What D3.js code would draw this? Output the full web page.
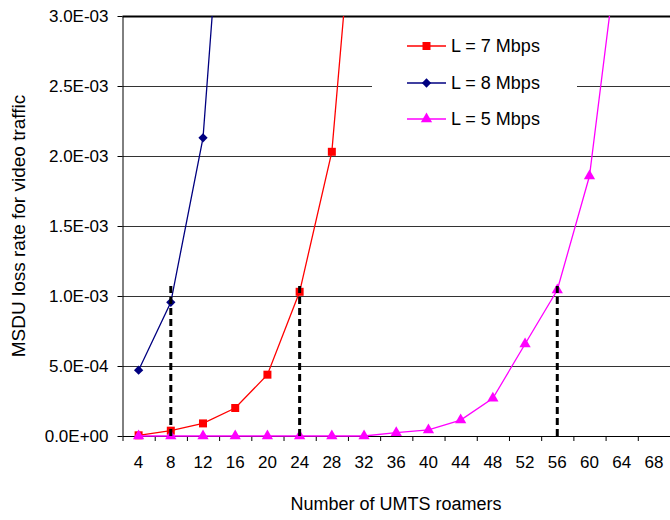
<!DOCTYPE html>
<html>
<head>
<meta charset="utf-8">
<script src="https://cdn.jsdelivr.net/npm/d3@7"></script>
<style>
    body { margin: 0; background: #fff; }
    text { font-family: Arial, "Liberation Sans", sans-serif; fill: #000; }
</style>
</head>
<body>
<div id="chart"></div>
<script>
// categories on the x axis (number of UMTS roamers)
let categories = [4, 8, 12, 16, 20, 24, 28, 32, 36, 40, 44, 48, 52, 56, 60, 64, 68]

// loss rates (last point of each runs off the top)
let rate7 = [0.000005, 0.000038, 0.00009, 0.0002, 0.000438, 0.00103, 0.00203, 0.0047]
let rate8 = [0.00047, 0.000955, 0.00213, 0.0052]
let rate5 = [0, 0, 0, 0, 0, 0, 0, 0, 0.000024, 0.000043, 0.000114, 0.000269, 0.000657, 0.001043, 0.001857, 0.0037]

let yTicks = [0, 0.0005, 0.001, 0.0015, 0.002, 0.0025, 0.003]
let yTickLabels = ["0.0E+00", "5.0E-04", "1.0E-03", "1.5E-03", "2.0E-03", "2.5E-03", "3.0E-03"]

// dashed drop lines at the capacity limits
let dropX = [8, 24, 56]
let dropTop = 0.00108

let series = [
    {name: "L = 7 Mbps", values: rate7, color: "#ff0000", symbol: d3.symbolSquare, size: 64},
    {name: "L = 8 Mbps", values: rate8, color: "#000080", symbol: d3.symbolDiamond2, size: 55},
    {name: "L = 5 Mbps", values: rate5, color: "#ff00ff", symbol: d3.symbolTriangle, size: 55}
]

let margin = {top: 16, right: 0, bottom: 84, left: 122.5}
let width = 670 - margin.left - margin.right
let height = 520 - margin.top - margin.bottom

let svg = d3.select("#chart").append("svg")
    .attr("width", 670)
    .attr("height", 520)

let g = svg.append("g")
    .attr("transform", `translate(${margin.left}, ${margin.top})`)

// scales
let x = d3.scaleBand().domain(categories).range([0, width]).paddingInner(0).paddingOuter(0)
let xEdge = d3.scaleLinear().domain([0, categories.length]).range([0, width])
let y = d3.scaleLinear().domain([0, 0.003]).range([height, 0])

g.append("clipPath").attr("id", "plotClip")
    .append("rect")
    .attr("x", 0).attr("y", 0)
    .attr("width", width).attr("height", height + 2)

// gridlines
g.append("g")
    .attr("class", "grid")
    .selectAll("line")
    .data(yTicks.slice(1))
    .enter().append("line")
    .attr("x1", 0)
    .attr("x2", width)
    .attr("y1", d => Math.round(y(d)) + 0.5)
    .attr("y2", d => Math.round(y(d)) + 0.5)
    .attr("stroke", d => d === 0.003 ? "#000" : "#333")
    .attr("stroke-width", d => d === 0.003 ? 2 : 1)

// y axis
let yAxis = g.append("g")
    .attr("class", "axis axis--y")
    .call(d3.axisLeft(y).tickValues(yTicks)
        .tickFormat((d, i) => yTickLabels[i])
        .tickSize(5).tickPadding(9).tickSizeOuter(0))
yAxis.selectAll("text").style("font-size", "17px")
yAxis.select(".domain").attr("stroke", "#000")

// x axis: tick marks between categories, labels centred
let xTicks = g.append("g")
    .attr("class", "axis axis--x")
    .attr("transform", `translate(0, ${height})`)
    .call(d3.axisBottom(xEdge).tickValues(d3.range(0, categories.length + 1))
        .tickFormat("").tickSize(5).tickSizeOuter(0))

let xLabels = g.append("g")
    .attr("transform", `translate(0, ${height})`)
    .call(d3.axisBottom(x).tickSize(0).tickPadding(20))
xLabels.select(".domain").remove()
xLabels.selectAll("text").style("font-size", "17px")

// lines (clipped at the top of the plot) and markers
let line = d3.line()
    .x((d, i) => x(categories[i]) + x.bandwidth() / 2)
    .y(d => y(d))

let plot = g.append("g")

series.forEach(s => {
    plot.append("path")
        .datum(s.values)
        .attr("clip-path", "url(#plotClip)")
        .attr("fill", "none")
        .attr("stroke", s.color)
        .attr("stroke-width", 1.3)
        .attr("d", line)

    plot.selectAll(null)
        .data(s.values.filter(v => v <= 0.003))
        .enter().append("path")
        .attr("d", d3.symbol().type(s.symbol).size(s.size))
        .attr("transform", (d, i) => `translate(${x(categories[i]) + x.bandwidth() / 2}, ${y(d)})`)
        .attr("fill", s.color)
})

// dashed drop lines
g.selectAll(".drop")
    .data(dropX)
    .enter().append("line")
    .attr("class", "drop")
    .attr("x1", d => x(d) + x.bandwidth() / 2)
    .attr("x2", d => x(d) + x.bandwidth() / 2)
    .attr("y1", height)
    .attr("y2", y(dropTop))
    .attr("stroke", "#000")
    .attr("stroke-width", 3)
    .attr("stroke-dasharray", "7,4")

// legend
let legend = svg.append("g").attr("transform", "translate(372, 22)")
legend.append("rect")
    .attr("width", 205).attr("height", 120)
    .attr("fill", "#fff")

let legendRows = [24, 61, 97]
series.forEach((s, i) => {
    let row = legend.append("g").attr("transform", `translate(0, ${legendRows[i]})`)
    row.append("line")
        .attr("x1", 35).attr("x2", 74)
        .attr("stroke", s.color).attr("stroke-width", 1.3)
    row.append("path")
        .attr("d", d3.symbol().type(s.symbol).size(s.size))
        .attr("transform", "translate(54.5, 0)")
        .attr("fill", s.color)
    row.append("text")
        .attr("x", 79)
        .attr("dy", "0.35em")
        .style("font-size", "18px")
        .text(s.name)
})

// axis titles
svg.append("text")
    .attr("transform", `translate(25, ${margin.top + height / 2}) rotate(-90)`)
    .attr("text-anchor", "middle")
    .style("font-size", "19px")
    .text("MSDU loss rate for video traffic")

svg.append("text")
    .attr("x", 396)
    .attr("y", 510)
    .attr("text-anchor", "middle")
    .style("font-size", "18px")
    .text("Number of UMTS roamers")
</script>
</body>
</html>
